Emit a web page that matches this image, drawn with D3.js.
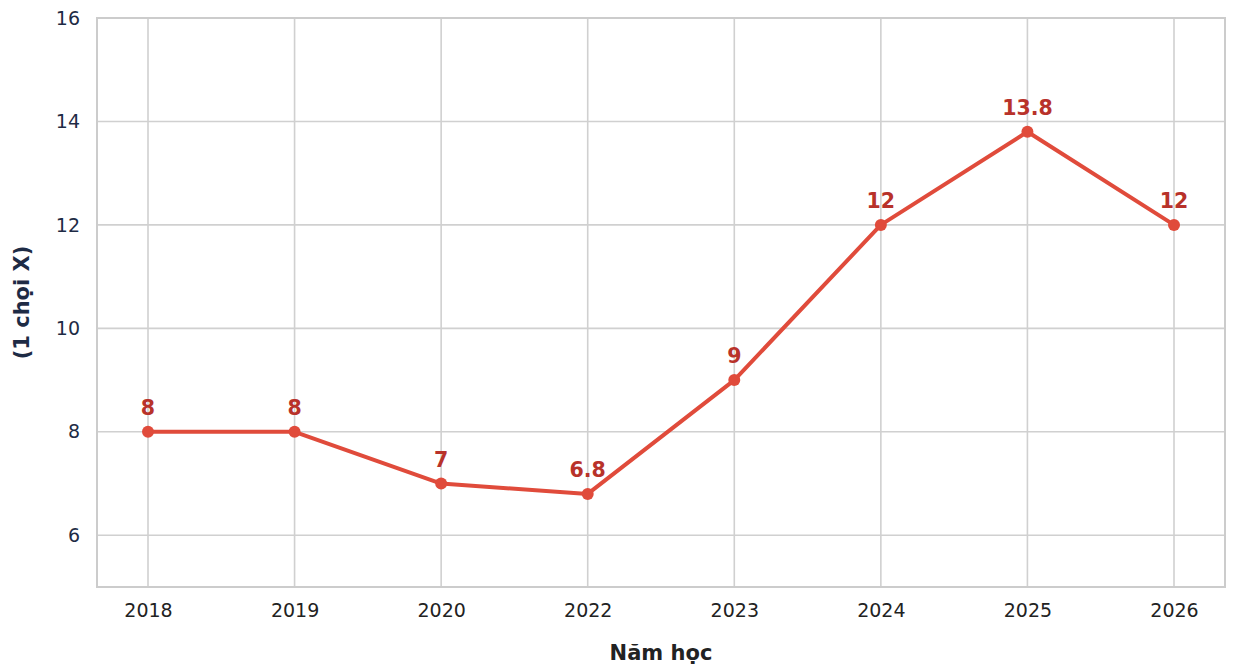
<!DOCTYPE html>
<html>
<head>
<meta charset="utf-8">
<script src="https://cdn.jsdelivr.net/npm/d3@7"></script>
<style>
  body { margin: 0; background: #fff; }
  text { font-family: "DejaVu Sans", sans-serif; }
</style>
</head>
<body>
<script>
// data
let years = ["2018", "2019", "2020", "2022", "2023", "2024", "2025", "2026"]
let ratios = [8, 8, 7, 6.8, 9, 12, 13.8, 12]
let yTicks = [6, 8, 10, 12, 14, 16]

let width = 1237
let height = 666
let plotLeft = 97, plotRight = 1225, plotTop = 18, plotBottom = 587

let svg = d3.select("body").append("svg")
    .attr("width", width)
    .attr("height", height)

let x = d3.scalePoint()
    .domain(years)
    .range([plotLeft, plotRight])
    .padding(0.348)

let y = d3.scaleLinear()
    .domain([5, 16])
    .range([plotBottom, plotTop])

// grid lines
svg.append("g")
    .selectAll("line.hgrid")
    .data(yTicks)
    .enter()
    .append("line")
    .attr("x1", plotLeft).attr("x2", plotRight)
    .attr("y1", d => y(d)).attr("y2", d => y(d))
    .attr("stroke", "#d0d0d0")
    .attr("stroke-width", 1.6)

svg.append("g")
    .selectAll("line.vgrid")
    .data(years)
    .enter()
    .append("line")
    .attr("x1", d => x(d)).attr("x2", d => x(d))
    .attr("y1", plotTop).attr("y2", plotBottom)
    .attr("stroke", "#d0d0d0")
    .attr("stroke-width", 1.6)

// frame
svg.append("rect")
    .attr("x", plotLeft).attr("y", plotTop)
    .attr("width", plotRight - plotLeft).attr("height", plotBottom - plotTop)
    .attr("fill", "none")
    .attr("stroke", "#cccccc")
    .attr("stroke-width", 2)

// axes (ticks text only)
let yAxis = svg.append("g")
    .attr("transform", `translate(${plotLeft},0)`)
    .call(d3.axisLeft(y).tickValues(yTicks).tickSize(0).tickPadding(17).tickFormat(d3.format("d")))
yAxis.select(".domain").remove()
yAxis.selectAll("text")
    .attr("font-size", 19)
    .attr("font-family", "DejaVu Sans")
    .attr("fill", "#1e2b45")

let xAxis = svg.append("g")
    .attr("transform", `translate(0,${plotBottom})`)
    .call(d3.axisBottom(x).tickSize(0).tickPadding(17))
xAxis.select(".domain").remove()
xAxis.selectAll("text")
    .attr("font-size", 19)
    .attr("font-family", "DejaVu Sans")
    .attr("fill", "#222")

// axis titles
svg.append("text")
    .attr("x", (plotLeft + plotRight) / 2)
    .attr("y", 660)
    .attr("text-anchor", "middle")
    .attr("font-size", 21)
    .attr("font-weight", "bold")
    .attr("fill", "#222")
    .text("Năm học")

svg.append("text")
    .attr("transform", `translate(29,${(plotTop + plotBottom) / 2}) rotate(-90)`)
    .attr("text-anchor", "middle")
    .attr("font-size", 21)
    .attr("font-weight", "bold")
    .attr("fill", "#1e2b45")
    .text("(1 chọi X)")

// line + points
let pts = years.map((d, i) => ({year: d, value: ratios[i]}))

let line = d3.line()
    .x(d => x(d.year))
    .y(d => y(d.value))

svg.append("path")
    .datum(pts)
    .attr("d", line)
    .attr("fill", "none")
    .attr("stroke", "#e04b3b")
    .attr("stroke-width", 4)
    .attr("stroke-linejoin", "round")

svg.selectAll("circle")
    .data(pts)
    .enter()
    .append("circle")
    .attr("cx", d => x(d.year))
    .attr("cy", d => y(d.value))
    .attr("r", 6)
    .attr("fill", "#e04b3b")

svg.selectAll("text.label")
    .data(pts)
    .enter()
    .append("text")
    .attr("class", "label")
    .attr("x", d => x(d.year))
    .attr("y", d => y(d.value) - 17)
    .attr("text-anchor", "middle")
    .attr("font-size", 20.5)
    .attr("font-weight", "bold")
    .attr("fill", "#b8322a")
    .text(d => d.value)
</script>
</body>
</html>
